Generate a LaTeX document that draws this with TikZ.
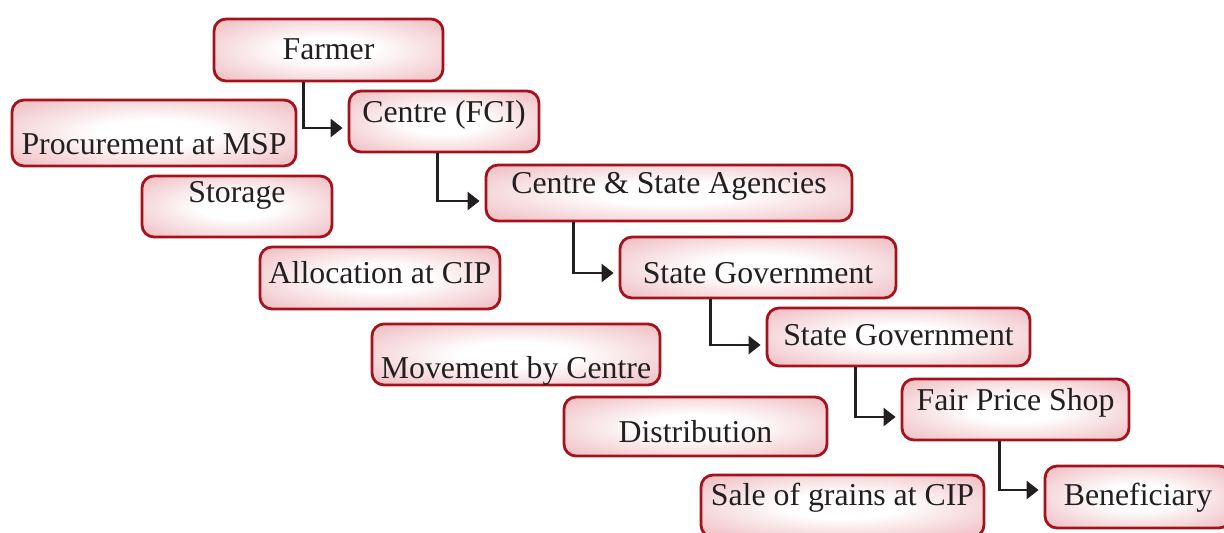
\documentclass[tikz,border=0pt]{standalone}
\usepackage{fontspec}
\setmainfont{Liberation Serif}
\usetikzlibrary{arrows.meta}

\definecolor{boxred}{RGB}{165,18,28}
\definecolor{boxpink}{RGB}{238,186,191}
\definecolor{inkgray}{RGB}{35,31,32}

\pgfdeclareradialshading{stageshade}{\pgfpoint{0bp}{0bp}}{%
  color(0bp)=(white); color(10bp)=(white); color(36bp)=(boxpink); color(50bp)=(boxpink)}

\tikzset{
  stage/.style={draw=boxred, line width=1.4pt, rounded corners=6pt,
    shading=stageshade, inner xsep=0pt, inner ysep=0pt,
    anchor=base, text=inkgray, font=\fontsize{15.9}{18}\selectfont},
  flow/.style={draw=inkgray, line width=1.35pt,
    -{Triangle[length=6pt,width=9pt]}, shorten >=2.5pt},
}

\begin{document}
\begin{tikzpicture}[x=0.5pt, y=-0.5pt]
    \useasboundingbox (0,0) rectangle (1224,532);
    % chain of agencies
    \node[stage, minimum width=114.5pt, text height=20pt, text depth=11pt] (farmer) at (328.5,59) {Farmer};
    \node[stage, minimum width=95pt, text height=15.5pt, text depth=15pt] (fci) at (444,122) {Centre (FCI)};
    \node[stage, minimum width=183pt, text height=14pt, text depth=14pt] (agencies) at (669,193) {Centre \& State Agencies};
    \node[stage, minimum width=138pt, text height=23pt, text depth=7.5pt] (stategovone) at (758,283) {State Government};
    \node[stage, minimum width=131.5pt, text height=18.5pt, text depth=10.5pt] (stategovtwo) at (898.5,345) {State Government};
    \node[stage, minimum width=113.5pt, text height=15.5pt, text depth=15pt] (shop) at (1015.5,410) {Fair Price Shop};
    \node[stage, minimum width=93pt, text height=19.5pt, text depth=11.5pt] (beneficiary) at (1138,505) {Beneficiary};
    % activities
    \node[stage, minimum width=142pt, text height=27pt, text depth=6pt] (procurement) at (154,154) {Procurement at MSP};
    \node[stage, minimum width=95pt, text height=13pt, text depth=17.5pt] (storage) at (237,202) {Storage};
    \node[stage, minimum width=120pt, text height=18pt, text depth=13pt] (allocation) at (380,283) {Allocation at CIP};
    \node[stage, minimum width=144pt, text height=27pt, text depth=3.5pt] (movement) at (516,378) {Movement by Centre};
    \node[stage, minimum width=131.5pt, text height=22.5pt, text depth=7pt] (distribution) at (695.5,442) {Distribution};
    \node[stage, minimum width=141.5pt, text height=15pt, text depth=16pt] (sale) at (842.5,505) {Sale of grains at CIP};
    % arrows
    \draw[flow] ([xshift=45.5pt]farmer.south west) |- ([yshift=-3.25pt]fci.west);
    \draw[flow] ([xshift=45pt]fci.south west) |- ([yshift=-4pt]agencies.west);
    \draw[flow] ([xshift=44.5pt]agencies.south west) |- ([yshift=-2.75pt]stategovone.west);
    \draw[flow] ([xshift=46pt]stategovone.south west) |- ([yshift=-4pt]stategovtwo.west);
    \draw[flow] ([xshift=45pt]stategovtwo.south west) |- ([yshift=-3.75pt]shop.west);
    \draw[flow] ([xshift=49.5pt]shop.south west) |- ([yshift=3.5pt]beneficiary.west);
\end{tikzpicture}
\end{document}
